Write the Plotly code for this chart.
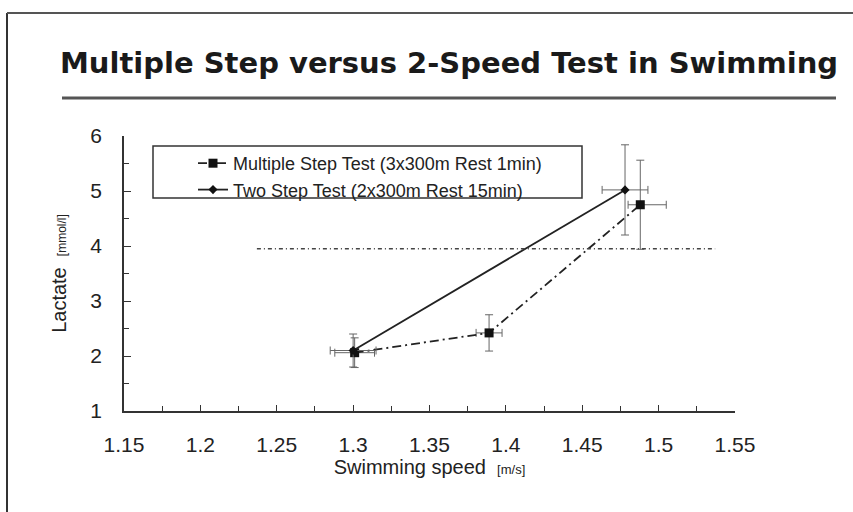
import plotly.graph_objects as go

# ---- data ----
title_text = "Multiple Step versus 2-Speed Test in Swimming"
x_title = "Swimming speed"
x_unit = "[m/s]"
y_title = "Lactate"
y_unit = "[mmol/l]"

x_ticks = [1.15, 1.2, 1.25, 1.3, 1.35, 1.4, 1.45, 1.5, 1.55]
x_tick_labels = ["1.15", "1.2", "1.25", "1.3", "1.35", "1.4", "1.45", "1.5", "1.55"]
y_ticks = [1, 2, 3, 4, 5, 6]
y_tick_labels = ["1", "2", "3", "4", "5", "6"]

ms_name = "Multiple Step Test (3x300m Rest 1min)"
ms_speed = [1.301, 1.389, 1.488]
ms_lactate = [2.06, 2.42, 4.75]
ms_speed_err_plus = [0.013, 0.0085, 0.017]
ms_speed_err_minus = [0.013, 0.0085, 0.008]
ms_lactate_err = [0.27, 0.33, 0.81]

ts_name = "Two Step Test (2x300m Rest 15min)"
ts_speed = [1.300, 1.478]
ts_lactate = [2.10, 5.02]
ts_speed_err = [0.015, 0.015]
ts_lactate_err = [0.30, 0.82]

thr_speed = [1.237, 1.537]
thr_lactate = [3.95, 3.95]

# ---- layout constants ----
W, H = 853, 512
ML, MR, MT, MB = 124, 118, 136, 101
PW = W - ML - MR
PH = H - MT - MB


def px(x):
    return (x - ML) / PW


def py(y):
    return (H - MB - y) / PH


FONT = "Liberation Sans"
INK = "#222222"

fig = go.Figure()

fig.add_trace(go.Scatter(
    x=ms_speed, y=ms_lactate, name=ms_name, mode="lines+markers",
    line=dict(color=INK, width=1.8, dash="9px,4px,2px,4px"),
    marker=dict(symbol="square", size=9, color="#111111"),
    error_y=dict(type="data", array=ms_lactate_err, color="#666666", thickness=1, width=4),
    error_x=dict(type="data", array=ms_speed_err_plus, arrayminus=ms_speed_err_minus,
                 color="#666666", thickness=1, width=4),
))
fig.add_trace(go.Scatter(
    x=ts_speed, y=ts_lactate, name=ts_name, mode="lines+markers",
    line=dict(color=INK, width=1.8),
    marker=dict(symbol="diamond", size=7, color="#111111"),
    error_y=dict(type="data", array=ts_lactate_err, color="#666666", thickness=1, width=4),
    error_x=dict(type="data", array=ts_speed_err, color="#666666", thickness=1, width=4),
))
fig.add_trace(go.Scatter(
    x=thr_speed, y=thr_lactate, mode="lines", showlegend=False, hoverinfo="skip",
    line=dict(color="#444444", width=1.5, dash="4px,3px,1px,3px"),
))

fig.update_layout(
    width=W, height=H,
    margin=dict(l=ML, r=MR, t=MT, b=MB),
    paper_bgcolor="white", plot_bgcolor="white",
    font=dict(family=FONT, color=INK),
    showlegend=True,
    legend=dict(
        x=px(193), xanchor="left", y=py(145), yanchor="top",
        bgcolor="rgba(0,0,0,0)", borderwidth=0,
        font=dict(family=FONT, size=18, color=INK),
        traceorder="normal",
    ),
    xaxis=dict(
        range=[1.15, 1.55], tickmode="array", tickvals=x_ticks, ticktext=x_tick_labels,
        showline=True, linecolor="#333333", linewidth=1.5,
        ticks="inside", ticklen=6, tickcolor="#333333", tickwidth=1.2,
        minor=dict(ticks="inside", ticklen=5, dtick=0.025, tick0=1.15, tickcolor="#333333"),
        showgrid=False, zeroline=False,
        tickfont=dict(family=FONT, size=21, color=INK),
        ticklabelstandoff=14,
        title=dict(text=f"{x_title}  <span style='font-size:13px'>{x_unit}</span>",
                   font=dict(family=FONT, size=20, color=INK), standoff=4),
    ),
    yaxis=dict(
        range=[1, 6], tickmode="array", tickvals=y_ticks, ticktext=y_tick_labels,
        showline=True, linecolor="#333333", linewidth=1.5,
        ticks="inside", ticklen=7, tickcolor="#333333", tickwidth=1.2,
        minor=dict(ticks="inside", ticklen=5, dtick=0.5, tick0=1, tickcolor="#333333"),
        showgrid=False, zeroline=False,
        tickfont=dict(family=FONT, size=21, color=INK),
        ticklabelstandoff=16,
        title=dict(text=f"{y_title}  <span style='font-size:12px'>{y_unit}</span>",
                   font=dict(family=FONT, size=20, color=INK), standoff=18),
    ),
    shapes=[
        # legend frame
        dict(type="rect", xref="paper", yref="paper",
             x0=px(153), x1=px(582), y0=py(198), y1=py(146),
             line=dict(color="#333333", width=1.5)),
        # slide frame: left and top
        dict(type="line", xref="paper", yref="paper",
             x0=px(7), x1=px(7), y0=py(520), y1=py(13),
             line=dict(color="#333333", width=2)),
        dict(type="line", xref="paper", yref="paper",
             x0=px(7), x1=px(870), y0=py(13), y1=py(13),
             line=dict(color="#555555", width=2)),
        # title underline
        dict(type="line", xref="paper", yref="paper",
             x0=px(62), x1=px(836), y0=py(98), y1=py(98),
             line=dict(color="#555555", width=3)),
    ],
    annotations=[
        dict(text=title_text, xref="paper", yref="paper",
             x=px(449), y=py(63), xanchor="center", yanchor="middle", showarrow=False,
             font=dict(family="DejaVu Sans", size=29, color="#1a1a1a", weight="bold")),
    ],
)

fig.write_html("out.html")
